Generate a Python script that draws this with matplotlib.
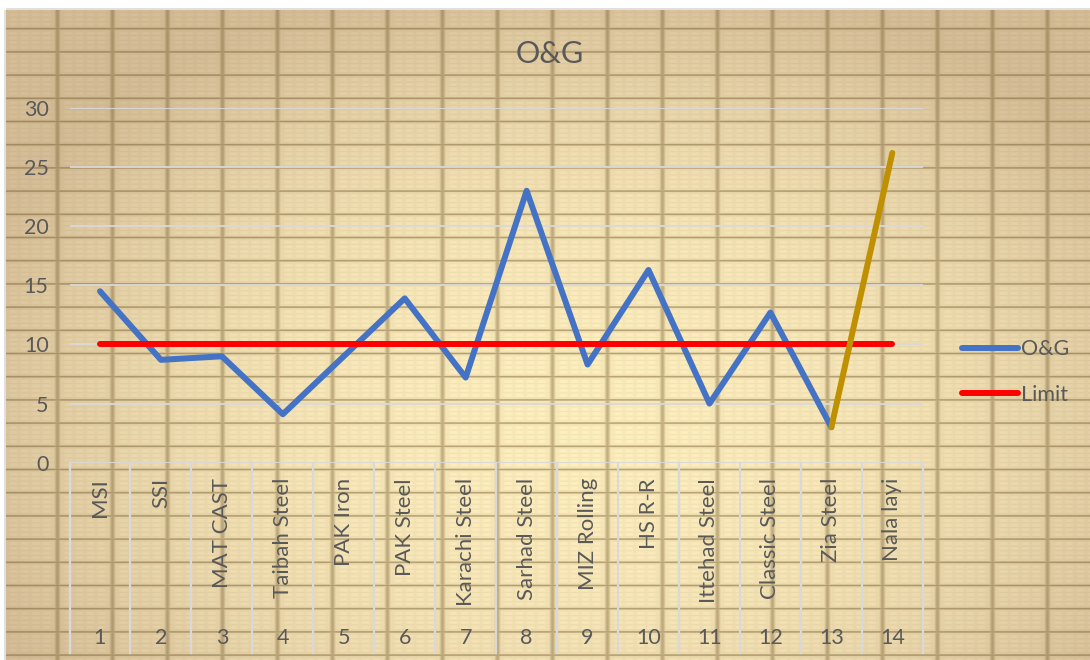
import numpy as np
import matplotlib
matplotlib.use("Agg")
import matplotlib.pyplot as plt
from matplotlib.transforms import blended_transform_factory

# ---- data -------------------------------------------------------------
categories = ['MSI', 'SSI', 'MAT CAST', 'Taibah Steel', 'PAK Iron', 'PAK Steel',
              'Karachi Steel', 'Sarhad Steel', 'MIZ Rolling', 'HS R-R',
              'Ittehad Steel', 'Classic Steel', 'Zia Steel', 'Nala layi']
sample_no = list(range(1, 15))
og_values = [14.5, 8.7, 9.0, 4.1, 9.0, 13.9, 7.2, 23.0, 8.3, 16.3, 5.0, 12.7, 3.0, 26.2]
limit_values = [10] * 14
y_ticks = [0, 5, 10, 15, 20, 25, 30]
title = 'O&G'

plt.rcParams['font.family'] = ['Lato', 'DejaVu Sans']
TXT = '#595959'
GRID = '#D9D9D9'

W, H, DPI = 1090, 660, 100
fig = plt.figure(figsize=(W / DPI, H / DPI), dpi=DPI, facecolor='white')

# ---- graph-paper parchment backdrop -------------------------------------
yy, xx = np.mgrid[0:H, 0:W].astype(float)
light = np.array([255, 240, 192]) / 255.0
dark = np.array([214, 190, 152]) / 255.0
t = np.sqrt(((xx - 580) / 650.0) ** 2 + ((yy - 420) / 450.0) ** 2)
t = np.clip(t, 0, 1) ** 2.0
img = light[None, None, :] * (1 - t[..., None]) + dark[None, None, :] * t[..., None]

def line_profile(coord, start, step, sigma, strength):
    d = np.mod(coord - start + step / 2.0, step) - step / 2.0
    return strength * np.exp(-0.5 * (d / sigma) ** 2)

alpha = np.zeros((H, W))
alpha = np.maximum(alpha, line_profile(xx, 57, 55.0, 1.8, 0.40))        # major verticals
alpha = np.maximum(alpha, line_profile(yy, 5, 23.2, 0.75, 0.48))        # major horizontals
alpha = np.maximum(alpha, line_profile(xx, 57 + 5.5, 11.0, 1.5, 0.05))  # minor verticals
alpha = np.maximum(alpha, line_profile(yy, 5 + 2.3, 4.64, 0.6, 0.07))   # minor horizontals
brown = np.array([105, 80, 35]) / 255.0
img = img * (1 - alpha[..., None]) + brown[None, None, :] * alpha[..., None]

# light frame around the sheet
frame = np.array([0.88, 0.88, 0.88])
img[:10, :, :] = 1.0
img[8:10, 6:, :] = frame
img[:, :6, :] = 1.0
img[10:, 4:6, :] = frame

bg = fig.add_axes([0, 0, 1, 1], zorder=-10)
bg.imshow(img, extent=(0, W, H, 0), interpolation='nearest', aspect='auto')
bg.set_xlim(0, W)
bg.set_ylim(H, 0)
bg.axis('off')

# ---- plot area ---------------------------------------------------------
x0, x1 = 69.5, 922.8          # pixel extent of the category axis
y_top, y_zero = 108.0, 462.7  # pixel position of 30 and 0
ax = fig.add_axes([x0 / W, (H - y_zero) / H, (x1 - x0) / W, (y_zero - y_top) / H])
ax.patch.set_alpha(0)
ax.set_xlim(0.5, 14.5)
ax.set_ylim(0, 30)
for s in ax.spines.values():
    s.set_visible(False)

ax.set_yticks(y_ticks)
ax.set_yticklabels([str(v) for v in y_ticks])
ax.tick_params(axis='y', length=0, pad=15, labelsize=15.5, labelcolor=TXT)
ax.set_xticks([])
for v in y_ticks:
    ax.axhline(v, color=GRID, lw=1.3, zorder=1)

# category table under the axis
trans = blended_transform_factory(ax.transData, ax.transAxes)
table_bottom = -(653 - y_zero) / (y_zero - y_top)
for b in np.arange(0.5, 15.0, 1.0):
    ax.plot([b, b], [0, table_bottom], transform=trans, color=GRID, lw=1.6,
            clip_on=False, zorder=1)
label_top = -(478 - y_zero) / (y_zero - y_top)
num_y = -(638 - y_zero) / (y_zero - y_top)
for x, name, n in zip(sample_no, categories, sample_no):
    ax.text(x, label_top, name, transform=trans, rotation=90, ha='center',
            va='top', fontsize=16, color=TXT)
    ax.text(x, num_y, str(n), transform=trans, ha='center', va='center',
            fontsize=15.5, color=TXT)

# ---- series ------------------------------------------------------------
lw = 4.3
og_line, = ax.plot(sample_no[:13], og_values[:13], color='#4472C4', lw=lw,
                   solid_capstyle='round', solid_joinstyle='round', zorder=3,
                   clip_on=False)
lim_line, = ax.plot(sample_no, limit_values, color='#FF0000', lw=lw,
                    solid_capstyle='round', zorder=4, clip_on=False)
ax.plot(sample_no[12:], og_values[12:], color='#BF9000', lw=lw,
        solid_capstyle='round', solid_joinstyle='round', zorder=5, clip_on=False)

leg = ax.legend([og_line, lim_line], ['O&G', 'Limit'], loc='center left',
                bbox_to_anchor=(962 / W, 1 - 372 / H), bbox_transform=fig.transFigure,
                frameon=False, fontsize=15.5, handlelength=2.6, handletextpad=0.15,
                labelspacing=1.2, borderpad=0, borderaxespad=0)
for txt in leg.get_texts():
    txt.set_color(TXT)

fig.text(550 / W, 1 - 54 / H, title, ha='center', va='center', fontsize=22, color=TXT)

fig.savefig('out.png', dpi=DPI, facecolor='white')
